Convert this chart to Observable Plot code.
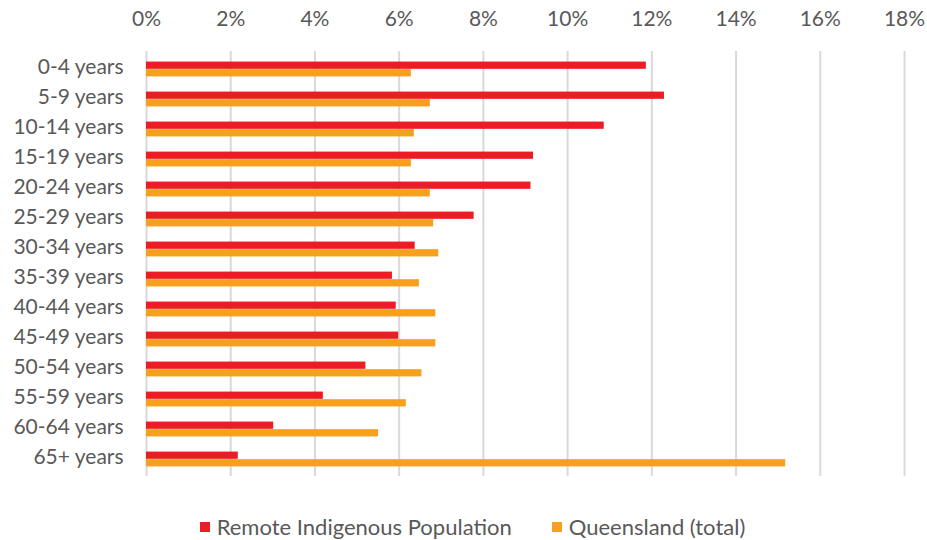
<!DOCTYPE html>
<html>
<head>
<meta charset="utf-8">
<script src="https://cdn.jsdelivr.net/npm/d3@7"></script>
<script src="https://cdn.jsdelivr.net/npm/@observablehq/plot@0.6"></script>
<style>
  body { margin: 0; background: #fff; font-family: Lato, "Open Sans", sans-serif; }
  #legend { display: flex; justify-content: center; gap: 40px; font-size: 22px; color: #595959; margin-top: 14px; padding-left: 18px; line-height: 26px; }
  #legend span.sw { display: inline-block; width: 10px; height: 10px; margin-right: 7px; vertical-align: middle; position: relative; top: -2px; }
</style>
</head>
<body>
<div id="chart"></div>
<script>
const ages = ["0-4 years","5-9 years","10-14 years","15-19 years","20-24 years","25-29 years","30-34 years","35-39 years","40-44 years","45-49 years","50-54 years","55-59 years","60-64 years","65+ years"];
const remote = [11.87, 12.30, 10.87, 9.19, 9.13, 7.78, 6.38, 5.84, 5.93, 5.99, 5.21, 4.20, 3.02, 2.18];
const queensland = [6.29, 6.74, 6.36, 6.29, 6.74, 6.82, 6.94, 6.48, 6.87, 6.87, 6.54, 6.17, 5.51, 15.18];
const seriesNames = ["Remote Indigenous Population", "Queensland (total)"];
const seriesColors = ["#ED1C24", "#F7A01E"];
const xTicks = [0, 2, 4, 6, 8, 10, 12, 14, 16, 18];

const remoteData = ages.map((a, i) => ({age: a, value: remote[i]}));
const qldData = ages.map((a, i) => ({age: a, value: queensland[i]}));

const H = 500, mTop = 51, mBottom = 24;
const bw = (H - mTop - mBottom) / ages.length;
const barH = 7.6;

const chart = Plot.plot({
  width: 927,
  height: H,
  marginTop: mTop,
  marginBottom: mBottom,
  marginLeft: 146,
  marginRight: 23,
  style: {fontFamily: "Lato, 'Open Sans', sans-serif", fontSize: "21px", color: "#595959", background: "#fff", overflow: "visible"},
  x: {domain: [0, 18], label: null},
  y: {domain: ages, padding: 0, label: null},
  marks: [
    Plot.gridX(xTicks, {stroke: "#d9d9d9", strokeOpacity: 1, strokeWidth: 2}),
    Plot.barX(remoteData, {x: "value", y: "age", fill: seriesColors[0], insetTop: bw/2 - barH, insetBottom: bw/2}),
    Plot.barX(qldData, {x: "value", y: "age", fill: seriesColors[1], insetTop: bw/2, insetBottom: bw/2 - barH}),
    Plot.axisX(xTicks, {anchor: "top", label: null, tickSize: 0, tickPadding: 26, tickFormat: d => d + "%", fill: "#595959", fontSize: 21}),
    Plot.axisY({label: null, tickSize: 0, tickPadding: 23, dy: -2, fill: "#595959", fontSize: 21})
  ]
});
document.getElementById("chart").appendChild(chart);

const legend = document.createElement("div");
legend.id = "legend";
seriesNames.forEach((n, i) => {
  const item = document.createElement("div");
  item.innerHTML = `<span class="sw" style="background:${seriesColors[i]}"></span>${n}`;
  legend.appendChild(item);
});
document.body.appendChild(legend);
</script>
</body>
</html>
